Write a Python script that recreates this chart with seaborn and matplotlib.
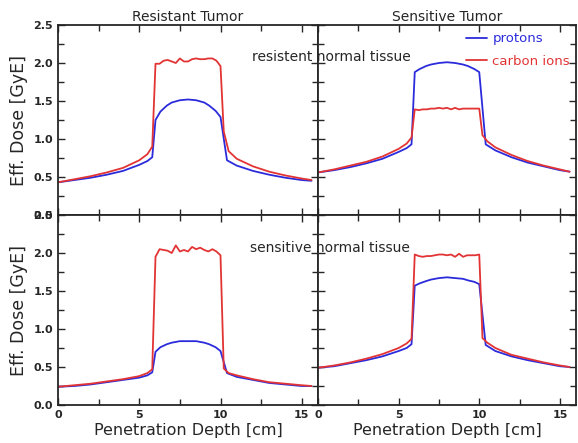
import numpy as np
import matplotlib
matplotlib.use("Agg")
import matplotlib.pyplot as plt
import seaborn as sns
from matplotlib.ticker import MultipleLocator

# ---- data ----
depth_p = [0, 1, 2, 3, 4, 5, 5.5, 5.8, 6.0, 6.3, 6.7, 7.0, 7.5, 8.0, 8.5, 9.0, 9.3, 9.7, 10.0, 10.4,
           11, 12, 13, 14, 15, 15.6]
depth_c = [0, 1, 2, 3, 4, 5, 5.5, 5.8, 6.0, 6.25, 6.5, 6.75, 7.0, 7.25, 7.5, 7.75, 8.0, 8.25, 8.5,
           8.75, 9.0, 9.25, 9.5, 9.75, 10.0, 10.2, 10.5, 11, 12, 13, 14, 15, 15.6]

# resistant tumor / resistant normal tissue
rr_protons = [0.43, 0.46, 0.49, 0.53, 0.58, 0.66, 0.71, 0.76, 1.25, 1.36, 1.44, 1.48, 1.51, 1.52, 1.51,
              1.48, 1.44, 1.37, 1.29, 0.72, 0.65, 0.58, 0.53, 0.49, 0.46, 0.45]
rr_carbon = [0.43, 0.47, 0.51, 0.56, 0.62, 0.72, 0.80, 0.90, 1.99, 1.99, 2.03, 2.04, 2.02, 2.00, 2.06,
             2.02, 2.02, 2.05, 2.06, 2.05, 2.05, 2.06, 2.06, 2.03, 1.96, 1.10, 0.84, 0.74, 0.64, 0.57,
             0.52, 0.48, 0.46]
# sensitive tumor / resistant normal tissue
sr_protons = [0.56, 0.59, 0.63, 0.68, 0.74, 0.83, 0.88, 0.93, 1.88, 1.92, 1.96, 1.98, 2.00, 2.01, 2.00,
              1.98, 1.96, 1.92, 1.88, 0.93, 0.85, 0.76, 0.69, 0.64, 0.59, 0.57]
sr_carbon = [0.56, 0.60, 0.65, 0.70, 0.77, 0.87, 0.94, 1.02, 1.39, 1.38, 1.39, 1.39, 1.40, 1.40, 1.41,
             1.40, 1.41, 1.39, 1.41, 1.39, 1.40, 1.40, 1.40, 1.40, 1.40, 1.05, 0.97, 0.89, 0.79, 0.71,
             0.65, 0.60, 0.57]
# resistant tumor / sensitive normal tissue
rs_protons = [0.24, 0.25, 0.27, 0.30, 0.33, 0.36, 0.39, 0.43, 0.70, 0.76, 0.80, 0.82, 0.84, 0.84, 0.84,
              0.82, 0.80, 0.76, 0.71, 0.42, 0.37, 0.33, 0.29, 0.27, 0.25, 0.25]
rs_carbon = [0.24, 0.26, 0.28, 0.31, 0.34, 0.38, 0.42, 0.47, 1.95, 2.05, 2.04, 2.03, 2.00, 2.10, 2.02,
             2.04, 2.02, 2.08, 2.05, 2.07, 2.04, 2.02, 2.05, 2.02, 1.97, 0.48, 0.42, 0.39, 0.34, 0.30,
             0.28, 0.26, 0.25]
# sensitive tumor / sensitive normal tissue
ss_protons = [0.49, 0.51, 0.55, 0.59, 0.64, 0.71, 0.75, 0.80, 1.57, 1.60, 1.63, 1.65, 1.67, 1.68, 1.67,
              1.66, 1.64, 1.62, 1.59, 0.79, 0.71, 0.64, 0.59, 0.55, 0.51, 0.50]
ss_carbon = [0.49, 0.52, 0.56, 0.61, 0.67, 0.75, 0.81, 0.87, 1.98, 1.96, 1.95, 1.96, 1.96, 1.97, 1.98,
             1.98, 1.97, 1.98, 1.95, 1.99, 1.95, 1.97, 1.97, 1.97, 1.98, 0.88, 0.82, 0.75, 0.66, 0.61,
             0.56, 0.52, 0.50]

panels = [[(rr_protons, rr_carbon), (sr_protons, sr_carbon)],
          [(rs_protons, rs_carbon), (ss_protons, ss_carbon)]]
col_titles = ["Resistant Tumor", "Sensitive Tumor"]
row_notes = ["resistent normal tissue", "sensitive normal tissue"]

blue = "#2b2bdc"
red = "#e23434"

sns.set_style("ticks")
plt.rcParams["font.family"] = ["DejaVu Sans"]

fig = plt.figure(figsize=(5.78, 4.43), dpi=100)
W, H = 578, 443
x0, xm, x1 = 58, 318, 576
y_top, y_mid, y_bot = 25, 215, 405

axes = [[None, None], [None, None]]
for r in range(2):
    for c in range(2):
        left = (x0 if c == 0 else xm) / W
        width = ((xm - x0) if c == 0 else (x1 - xm)) / W
        top = y_top if r == 0 else y_mid
        bottom = y_mid if r == 0 else y_bot
        ax = fig.add_axes([left, 1 - bottom / H, width, (bottom - top) / H])
        axes[r][c] = ax
        prot, carb = panels[r][c]
        sns.lineplot(x=depth_p, y=prot, color=blue, lw=1.3, ax=ax, label="protons")
        sns.lineplot(x=depth_c, y=carb, color=red, lw=1.3, ax=ax, label="carbon ions")
        ax.set_xlim(0, 16)
        ax.set_ylim(0, 2.5)
        ax.xaxis.set_major_locator(MultipleLocator(5))
        ax.xaxis.set_minor_locator(MultipleLocator(2.5))
        ax.yaxis.set_major_locator(MultipleLocator(0.5))
        ax.yaxis.set_minor_locator(MultipleLocator(0.25))
        ax.tick_params(which="both", direction="in", top=True, right=True, labelsize=8, width=1)
        ax.tick_params(which="major", length=5)
        ax.tick_params(which="minor", length=4)
        for lab in ax.get_xticklabels() + ax.get_yticklabels():
            lab.set_fontweight("bold")
        for sp in ax.spines.values():
            sp.set_linewidth(1.3)
        ax.set_xlabel("")
        ax.set_ylabel("")
        if c == 0:
            ax.set_ylabel("Eff. Dose [GyE]", fontsize=12.5)
            ax.yaxis.set_major_formatter(matplotlib.ticker.FormatStrFormatter("%.1f"))
        else:
            ax.tick_params(labelleft=False)
        if r == 0:
            ax.tick_params(labelbottom=False)
            ax.set_title(col_titles[c], fontsize=10, pad=3)
        else:
            ax.set_xlabel("Penetration Depth [cm]", fontsize=11.5, labelpad=2)
        if r == 0 and c == 1:
            ax.legend(loc="upper right", frameon=False, fontsize=9.5, handlelength=1.6,
                      handletextpad=0.4, labelcolor="linecolor", borderaxespad=0.0,
                      labelspacing=0.75, bbox_to_anchor=(0.997, 0.99))
        else:
            ax.get_legend().remove()

fig.text(331 / W, 1 - 57 / H, row_notes[0], ha="center", va="center", fontsize=10)
fig.text(330 / W, 1 - 248 / H, row_notes[1], ha="center", va="center", fontsize=10)

fig.savefig("out.png", dpi=100)
